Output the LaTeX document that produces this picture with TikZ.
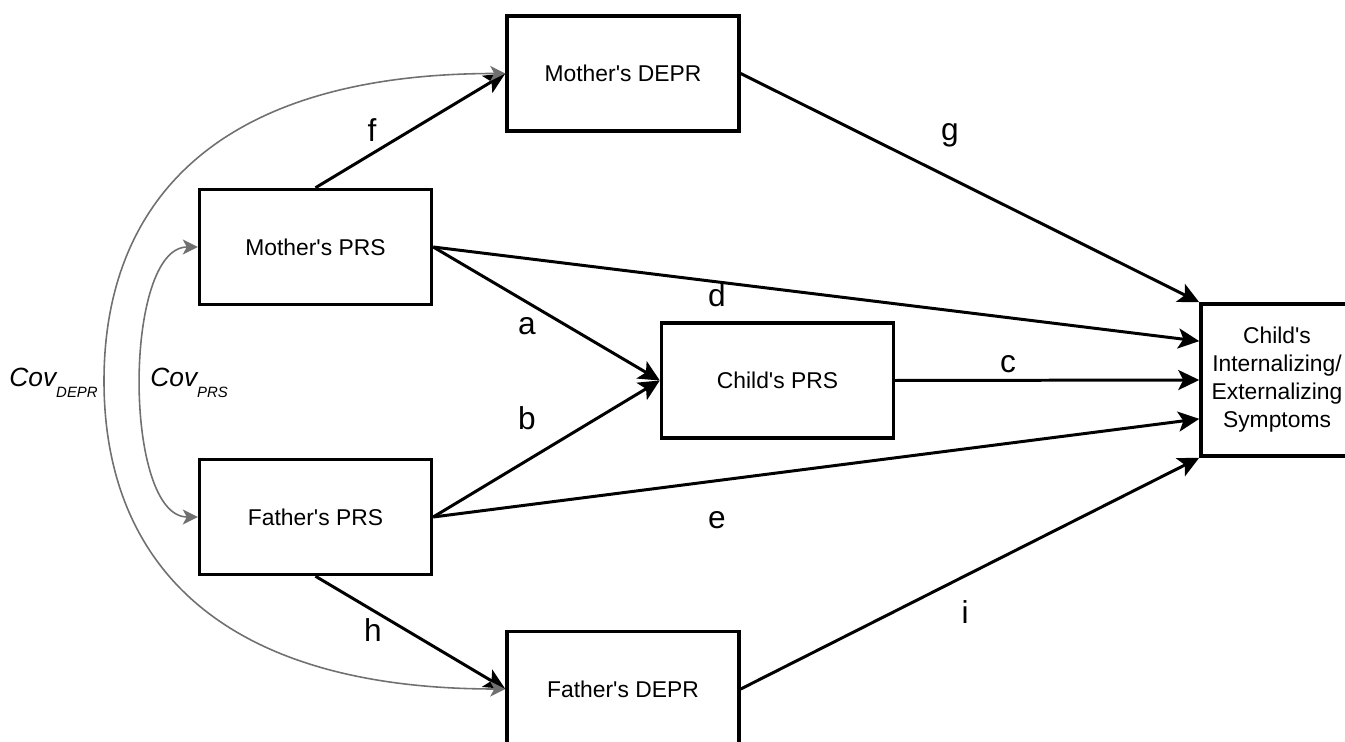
\documentclass[tikz,border=0pt]{standalone}
\usepackage{fontspec}
\setmainfont{Liberation Sans}
\usetikzlibrary{arrows.meta, calc}
\definecolor{covgray}{RGB}{112,112,112}
\newcommand{\ap}{\textquotesingle}
\newcommand{\covsub}[1]{Cov\raisebox{-0.22cm}{\fontsize{8.5}{10}\selectfont #1}}

\begin{document}
\begin{tikzpicture}[x=0.02cm, y=-0.02cm,
	box/.style={draw, line width=2pt, minimum width=4.64cm, minimum height=2.3cm, inner sep=0pt, font=\fontsize{13}{15.9}\selectfont},
	effect/.style={line width=1.7pt, -{Stealth[length=0.42cm, width=0.4cm, inset=0.1cm]}},
	cov/.style={line width=0.9pt, covgray, {Stealth[length=0.3cm, width=0.3cm, inset=0.08cm]}-{Stealth[length=0.3cm, width=0.3cm, inset=0.08cm]}},
	lbl/.style={anchor=base, font=\fontsize{18}{20}\selectfont},
	covlbl/.style={anchor=base west, inner sep=0pt, font=\fontsize{15}{17}\selectfont\itshape}]
				
				\useasboundingbox (0,0) rectangle (1345,742);
				\clip (0,0) rectangle (1345,742);
				
				% boxes
				\node[box] (MD) at (623,73.5) {Mother\ap s DEPR};
				\node[box] (MP) at (315.5,247) {Mother\ap s PRS};
				\node[box] (CP) at (777.5,380.5) {Child\ap s PRS};
				\node[box] (FP) at (315.5,517) {Father\ap s PRS};
				\node[box] (FD) at (623,689) {Father\ap s DEPR};
				\node[box, minimum width=3.04cm, minimum height=3.04cm, align=center] (OUT) at (1277,380) {Child\ap s\\Internalizing/\\Externalizing\\Symptoms};
				
				% paths
				\draw[effect] (MP.north) -- (MD.west);
				\draw[effect] (MD.east) -- (OUT.north west);
				\draw[effect] (MP.east) -- ($(OUT.north west)!0.25!(OUT.south west)$);
				\draw[effect] (MP.east) -- (CP.west);
				\draw[effect] (FP.east) -- (CP.west);
				\draw[effect] (CP.east) -- (OUT.west);
				\draw[effect] (FP.east) -- ($(OUT.north west)!0.75!(OUT.south west)$);
				\draw[effect] (FP.south) -- (FD.west);
				\draw[effect] (FD.east) -- (OUT.south west);
				
				% covariances
				\coordinate (covd) at (104,381);
				\draw[cov] (MD.west) .. controls (207,73.5) and (104,210) .. (covd) .. controls (104,552) and (207,689) .. (FD.west);
				\draw[cov] (MP.west) to[out=180, in=180, looseness=0.71] (FP.west);
				\node[covlbl] (covDEPR) at (9,387) {\covsub{DEPR}};
				\node[covlbl] (covPRS) at (150,387) {\covsub{PRS}};
				
				\node[lbl] (lf) at (372,142) {f};
				\node[lbl] (lg) at (950,141) {g};
				\node[lbl] (ld) at (717,307) {d};
				\node[lbl] (la) at (527,335) {a};
				\node[lbl] (lb) at (527,430) {b};
				\node[lbl] (lc) at (1008,373) {c};
				\node[lbl] (le) at (717,529) {e};
				\node[lbl] (lh) at (373,642) {h};
				\node[lbl] (li) at (965,623) {i};
			\end{tikzpicture}
\end{document}
